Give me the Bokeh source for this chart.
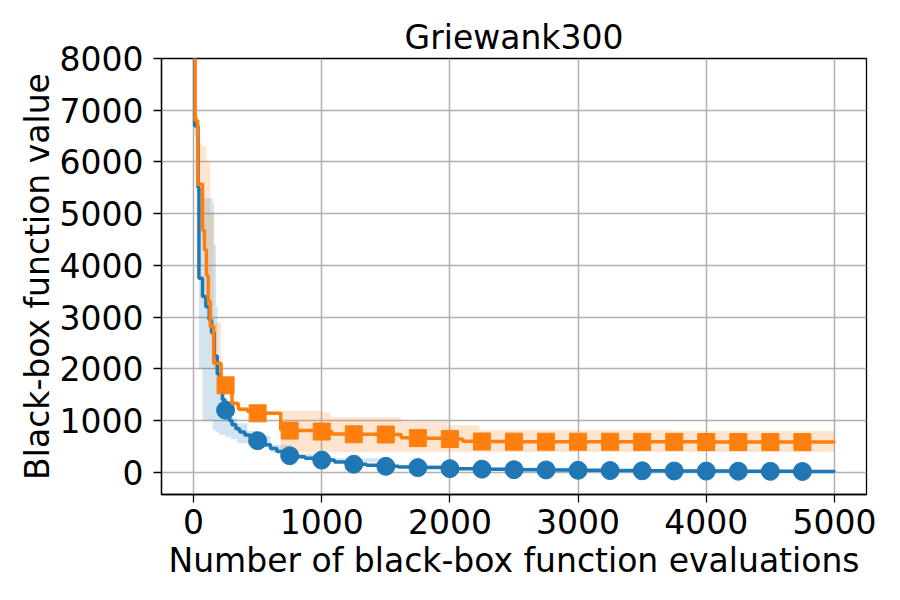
from bokeh.plotting import figure
from bokeh.models import FixedTicker, Range1d
from bokeh.embed import file_html
from bokeh.resources import INLINE

title_text = "Griewank300"
x_label = "Number of black-box function evaluations"
y_label = "Black-box function value"
x_ticks = [0, 1000, 2000, 3000, 4000, 5000]
y_ticks = [0, 1000, 2000, 3000, 4000, 5000, 6000, 7000, 8000]

# Series 1 (blue) best-so-far curve
blue_x = [0, 8, 35, 42, 70, 96, 122, 140, 162, 185, 205, 225, 245, 260, 280, 300, 330, 360,
          400, 440, 480, 500, 550, 600, 650, 700, 750, 800, 870, 950, 1000, 1100, 1200, 1250,
          1350, 1500, 1600, 1750, 2000, 2250, 2500, 2750, 3000, 3250, 3500, 3750, 4000, 4250,
          4500, 4750, 5000]
blue_y = [9500, 6700, 5500, 3750, 3400, 3200, 2950, 2700, 2250, 1900, 1650, 1400, 1250, 1150,
          1000, 920, 840, 780, 720, 670, 630, 610, 530, 460, 400, 350, 320, 300, 270, 250, 235,
          200, 170, 155, 135, 115, 100, 90, 70, 60, 50, 45, 38, 33, 28, 25, 22, 20, 18, 15, 12]

# Series 1 band
blue_band_x = [0, 8, 35, 42, 70, 107, 150, 160, 175, 187, 205, 250, 290, 340, 420, 500, 600,
               750, 1000, 1500, 2000, 3000, 5000]
blue_band_lo = [9000, 6500, 5200, 2000, 1000, 1000, 820, 810, 780, 750, 720, 680, 640, 560, 520,
                480, 380, 270, 200, 90, 50, 25, 5]
blue_band_hi = [9500, 6900, 6000, 5500, 5300, 5300, 5200, 4400, 3200, 2100, 1600, 1300, 1050,
                950, 800, 700, 530, 360, 270, 140, 90, 50, 20]

# Series 2 (orange) best-so-far curve
orange_x = [0, 12, 32, 70, 85, 100, 115, 130, 157, 215, 250, 300, 350, 420, 500, 680, 750, 1000,
            1080, 1250, 1500, 1620, 1750, 2000, 2100, 2250, 2500, 3000, 3500, 4000, 4500, 5000]
orange_y = [9500, 6800, 5570, 4680, 4300, 3800, 3300, 2820, 2110, 1720, 1680, 1330, 1220, 1180,
            1140, 820, 806, 787, 740, 735, 730, 665, 660, 645, 600, 595, 592, 590, 588, 585,
            583, 582]

# Series 2 band
orange_band_x = [0, 12, 32, 70, 100, 130, 157, 215, 250, 300, 350, 420, 500, 680, 1000, 1070,
                 1620, 1980, 2230, 3740, 5000]
orange_band_lo = [9000, 6600, 5400, 4500, 3500, 2600, 2000, 1650, 1600, 1280, 1180, 1140, 1100,
                  390, 390, 390, 390, 390, 390, 390, 390]
orange_band_hi = [9500, 7000, 6360, 6300, 6000, 5000, 2900, 1800, 1750, 1380, 1260, 1220, 1180,
                  1190, 1160, 1064, 980, 910, 815, 800, 800]

# Markers every 250 evaluations
marker_x = [250, 500, 750, 1000, 1250, 1500, 1750, 2000, 2250, 2500, 2750, 3000, 3250, 3500,
            3750, 4000, 4250, 4500, 4750]
blue_marker_y = [1200, 610, 320, 235, 155, 115, 90, 70, 60, 50, 45, 38, 33, 28, 25, 22, 20, 18, 15]
orange_marker_y = [1680, 1140, 806, 787, 735, 730, 660, 645, 595, 592, 590, 590, 590, 588, 588,
                   585, 585, 583, 583]

BLUE = "#1f77b4"
ORANGE = "#ff7f0e"
FONT = "DejaVu Sans"
FS = "33px"

p = figure(width=892, height=592, frame_width=705, frame_height=436,
           output_backend="svg", toolbar_location=None,
           x_range=Range1d(-250, 5250), y_range=Range1d(-430, 8000),
           min_border_left=161, min_border_right=26, min_border_top=58, min_border_bottom=98)

p.title.text = title_text
p.title.text_font = FONT
p.title.text_font_size = FS
p.title.text_font_style = "normal"
p.title.align = "center"
p.title.standoff = 3
p.title.text_color = "black"

p.outline_line_color = "black"
p.outline_line_width = 1.3
p.background_fill_color = "white"
p.border_fill_color = "white"

for ax in (p.xaxis[0], p.yaxis[0]):
    ax.axis_label_text_font = FONT
    ax.axis_label_text_font_size = FS
    ax.axis_label_text_font_style = "normal"
    ax.axis_label_text_color = "black"
    ax.major_label_text_font = FONT
    ax.major_label_text_font_size = FS
    ax.major_label_text_color = "black"
    ax.major_tick_out = 8
    ax.major_tick_in = 0
    ax.major_tick_line_width = 1.3
    ax.major_tick_line_color = "black"
    ax.minor_tick_line_color = None
    ax.axis_line_color = "black"
    ax.axis_line_width = 1.3

p.xaxis.axis_label = x_label
p.yaxis.axis_label = y_label
p.xaxis.ticker = FixedTicker(ticks=x_ticks)
p.yaxis.ticker = FixedTicker(ticks=y_ticks)
p.xaxis.major_label_standoff = 6
p.yaxis.major_label_standoff = 10
p.xaxis.axis_label_standoff = 4
p.yaxis.axis_label_standoff = 0

p.xgrid.ticker = FixedTicker(ticks=x_ticks)
p.ygrid.ticker = FixedTicker(ticks=y_ticks)
for g in (p.xgrid, p.ygrid):
    g.grid_line_color = "#b0b0b0"
    g.grid_line_width = 1.5

p.varea_step(x=blue_band_x, y1=blue_band_lo, y2=blue_band_hi, step_mode="after",
             fill_color=BLUE, fill_alpha=0.2)
p.varea_step(x=orange_band_x, y1=orange_band_lo, y2=orange_band_hi, step_mode="after",
             fill_color=ORANGE, fill_alpha=0.2)

p.step(x=blue_x, y=blue_y, mode="after", line_color=BLUE, line_width=3.5)
p.scatter(x=marker_x, y=blue_marker_y, marker="circle", size=18,
          fill_color=BLUE, line_color=BLUE)
p.step(x=orange_x, y=orange_y, mode="after", line_color=ORANGE, line_width=3.5)
p.scatter(x=marker_x, y=orange_marker_y, marker="square", size=17,
          fill_color=ORANGE, line_color=ORANGE)

open("out.html", "w").write(file_html(p, INLINE))
